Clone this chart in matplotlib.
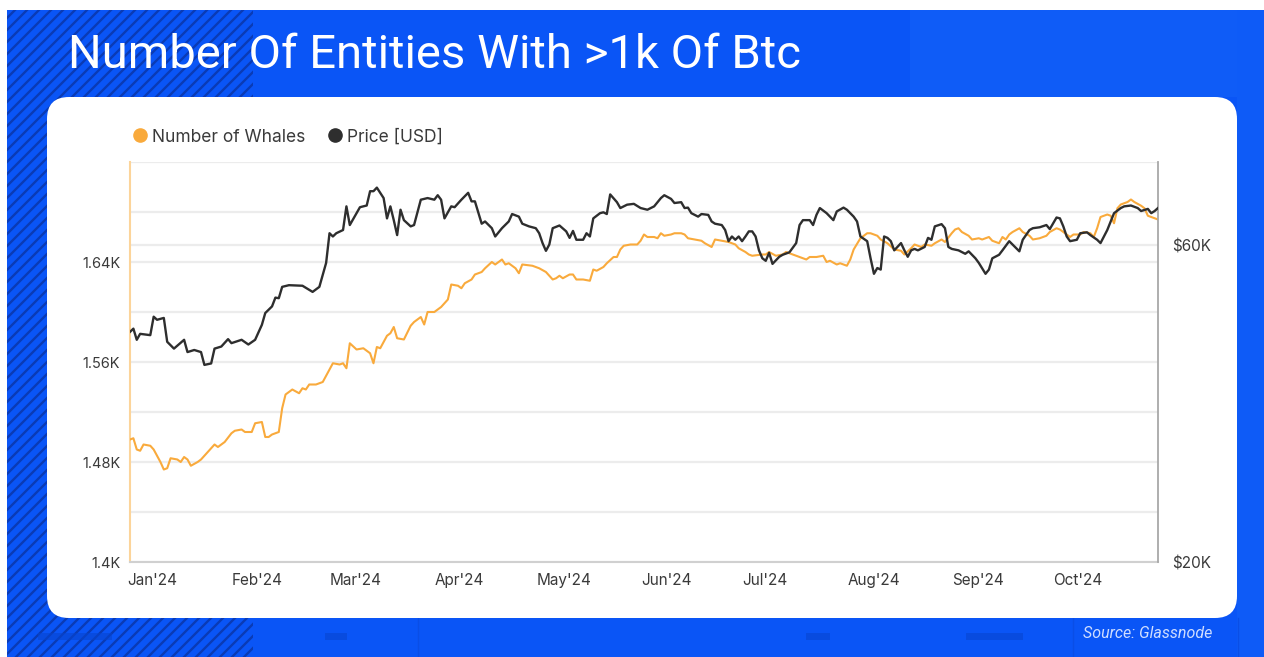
import matplotlib
matplotlib.use("Agg")
import matplotlib.pyplot as plt
import matplotlib.transforms as mtransforms
from matplotlib.patches import Rectangle, FancyBboxPatch
from matplotlib.lines import Line2D
import pandas as pd

# ---------------- data ----------------
YEAR = "2024"
price_days = ["01-01","01-02","01-03","01-04","01-07","01-08","01-09","01-11","01-12","01-14","01-17","01-18","01-20","01-22","01-23","01-25","01-26","01-28","01-30","01-31",
 "02-03","02-05","02-07","02-09","02-10","02-12","02-13","02-14","02-15","02-17","02-21","02-24","02-26","02-28","02-29",
 "03-01","03-02","03-04","03-05","03-06","03-08","03-09","03-11","03-12","03-13","03-14","03-16","03-17","03-18","03-19","03-20","03-21","03-22","03-24","03-25","03-27","03-29","03-31",
 "04-01","04-02","04-03","04-05","04-06","04-08","04-10","04-11","04-12","04-14","04-15","04-17","04-18","04-20","04-22","04-23","04-25","04-26","04-28","04-30",
 "05-01","05-02","05-03","05-04","05-05","05-07","05-09","05-10","05-11","05-12","05-14","05-15","05-16","05-17","05-19","05-20","05-21","05-22","05-24","05-25","05-27","05-29","05-31",
 "06-02","06-04","06-06","06-07","06-09","06-10","06-12","06-13","06-14","06-15","06-17","06-18","06-20","06-21","06-22","06-24","06-25","06-26","06-27","06-28","06-29","06-30",
 "07-01","07-02","07-03","07-04","07-05","07-06","07-07","07-08","07-09","07-11","07-12","07-14","07-16","07-17","07-18","07-20","07-21","07-22","07-23","07-25","07-27","07-28","07-30","07-31",
 "08-02","08-03","08-04","08-06","08-07","08-08","08-09","08-10","08-11","08-12","08-13","08-14","08-16","08-17","08-18","08-19","08-20","08-21","08-23","08-24","08-25","08-26","08-28","08-29","08-30","08-31",
 "09-02","09-04","09-05","09-07","09-08","09-10","09-11","09-12","09-14","09-15","09-17","09-18","09-20","09-21","09-23","09-24","09-26","09-28","09-29",
 "10-01","10-02","10-03","10-04","10-05","10-07","10-08","10-10","10-11","10-13","10-14","10-15","10-16","10-17","10-18","10-20","10-21","10-23","10-25","10-26","10-28","10-29","10-30","10-31"]
price_usd = [44400,44900,43200,44100,43900,46800,46300,46600,42900,41900,43200,41400,41700,41400,39600,39800,41900,42200,43300,42700,
 43200,42500,43200,45500,47400,48500,50000,49900,51900,52200,52100,51000,51900,56400,62500,
 61800,62500,63200,68600,64300,67000,68400,68800,72300,72300,73200,70600,65800,68600,65400,62100,67800,65400,64000,64300,70200,70600,70200,
 71300,70200,65800,68600,68400,70200,71900,69800,69800,64600,65100,63600,61800,63600,65100,66800,66200,64600,64000,63600,
 62500,60400,58800,60100,63600,64200,62900,61500,63000,61100,61100,62500,61800,65800,67000,67200,66800,71500,69600,68200,69000,69200,68200,
 67800,68600,70600,71300,70400,69400,69600,68200,68300,67000,66200,66800,66600,65100,64600,64300,63200,60800,61800,61100,61800,60800,
 61800,62900,62900,61800,58900,57300,56800,58400,56200,57600,58000,58500,60400,64300,65400,65400,64300,66600,68200,67000,65400,67400,68300,67800,
 66200,65100,61800,60800,57300,54300,55400,55100,61800,61500,60800,58900,60400,58900,57600,58900,59200,58900,59600,61500,61100,64000,64500,63600,59600,59200,
 58900,58200,58700,57300,56400,54300,55100,57300,58000,58900,60800,60100,58700,61100,63200,63600,63800,64300,63400,
 66000,65800,64000,61800,60800,61100,62500,62700,62100,61100,60400,61800,63200,65100,67000,68200,68600,68800,68200,67500,68000,67000,67500,68200]

whale_days = ["01-01","01-02","01-03","01-04","01-05","01-07","01-08","01-10","01-11","01-12","01-13","01-15","01-16","01-17","01-18","01-19","01-21","01-22","01-24","01-26","01-27","01-29","01-31",
 "02-01","02-03","02-04","02-06","02-07","02-09","02-10","02-11","02-12","02-14","02-15","02-16","02-18","02-20","02-21","02-22","02-23","02-25","02-27","02-29",
 "03-01","03-03","03-04","03-05","03-06","03-08","03-10","03-12","03-13","03-14","03-15","03-17","03-18","03-19","03-20","03-22","03-24","03-25","03-27","03-28","03-29","03-31",
 "04-02","04-04","04-05","04-07","04-08","04-09","04-11","04-12","04-14","04-15","04-17","04-18","04-20","04-21","04-22","04-24","04-25","04-26","04-29",
 "05-01","05-03","05-05","05-06","05-07","05-08","05-10","05-11","05-12","05-14","05-16","05-17","05-18","05-20","05-21","05-23","05-24","05-25","05-26","05-28","05-30","05-31",
 "06-01","06-02","06-04","06-05","06-06","06-07","06-09","06-10","06-12","06-13","06-14","06-16","06-18","06-19","06-21","06-22","06-24","06-26","06-28","06-29",
 "07-01","07-02","07-03","07-06","07-07","07-08","07-10","07-12","07-13","07-15","07-16","07-18","07-19","07-20","07-22","07-24","07-25","07-26","07-28","07-29","07-31",
 "08-01","08-02","08-04","08-06","08-07","08-09","08-10","08-12","08-14","08-16","08-17","08-19","08-20","08-22","08-23","08-25","08-26","08-28","08-29","08-31",
 "09-01","09-02","09-03","09-05","09-06","09-08","09-09","09-11","09-12","09-14","09-15","09-16","09-17","09-18","09-20","09-21","09-23","09-24","09-26","09-28","09-29",
 "10-01","10-02","10-04","10-05","10-06","10-08","10-09","10-11","10-12","10-13","10-14","10-16","10-17","10-18","10-19","10-20","10-22","10-23","10-24","10-26","10-27","10-28","10-29","10-30","10-31"]
whale_count = [1498,1499,1490,1489,1494,1493,1490,1480,1474,1475,1483,1482,1480,1484,1482,1477,1480,1482,1488,1494,1492,1496,1503,
 1505,1506,1504,1504,1511,1512,1500,1500,1502,1504,1523,1534,1538,1535,1539,1538,1542,1542,1544,1554,
 1559,1558,1559,1555,1575,1570,1571,1567,1559,1572,1571,1581,1583,1588,1579,1578,1589,1592,1596,1590,1600,1600,
 1604,1610,1622,1621,1619,1623,1626,1630,1632,1635,1640,1638,1642,1638,1639,1635,1631,1638,1637,
 1635,1632,1626,1627,1629,1627,1630,1630,1626,1626,1625,1634,1633,1636,1639,1644,1644,1650,1653,1654,1654,1657,
 1662,1660,1660,1659,1663,1661,1662,1663,1663,1662,1659,1658,1657,1655,1652,1658,1657,1656,1654,1651,
 1648,1646,1645,1646,1646,1648,1645,1646,1648,1646,1645,1643,1642,1644,1644,1645,1640,1641,1638,1639,1637,
 1642,1650,1659,1663,1663,1661,1658,1655,1650,1649,1646,1651,1654,1652,1654,1653,1655,1658,1656,1663,
 1666,1667,1664,1661,1658,1659,1658,1660,1657,1655,1660,1658,1662,1664,1667,1664,1661,1658,1659,1661,1664,
 1667,1666,1662,1660,1662,1662,1664,1663,1660,1667,1676,1678,1677,1671,1683,1686,1688,1690,1688,1685,1683,1677,1676,1675,1674]

month_ticks = ["01-01","02-01","03-01","04-01","05-01","06-01","07-01","08-01","09-01","10-01"]
month_labels = ["Jan'24","Feb'24","Mar'24","Apr'24","May'24","Jun'24","Jul'24","Aug'24","Sep'24","Oct'24"]
whale_ticks = [1400,1440,1480,1520,1560,1600,1640,1680,1720]
whale_tick_labels = ["1.4K","","1.48K","","1.56K","","1.64K","",""]
price_ticks = [20000,60000]
price_tick_labels = ["$20K","$60K"]

title = "Number Of Entities With >1k Of Btc"
legend_labels = ["Number of Whales", "Price [USD]"]
source = "Source: Glassnode"

# ---------------- style ----------------
W, H = 1264, 657
BLUE = "#0a55f6"
STRIPE = "#0a3bb5"
ORANGE = "#f9aa3c"
DARK = "#2e2e2e"
TXT = "#3a3a3a"
FONT = ["Inter", "DejaVu Sans"]
plt.rcParams["font.family"] = FONT

fig = plt.figure(figsize=(W / 100, H / 100), dpi=100)
fig.patch.set_facecolor("white")

bg = fig.add_axes([0, 0, 1, 1], zorder=0)
bg.set_xlim(0, W)
bg.set_ylim(H, 0)
bg.axis("off")

# blue background
bg.add_patch(Rectangle((7, 10), W - 7, H - 10, fc=BLUE, ec="none", zorder=0))
bg.add_patch(Rectangle((910, 10), W - 910, 87, fc="#0f5cf7", ec="none", zorder=0.1))
bg.add_patch(Rectangle((1237, 10), W - 1237, H - 10, fc="#0e5bf7", ec="none", zorder=0.1))
# hatched block
hatch_rect = Rectangle((7, 10), 246, H - 10, fc="none", ec="none", zorder=0.2)
bg.add_patch(hatch_rect)
for c in range(-700, 260, 12):
    ln, = bg.plot([c, c + 700], [H + 20, H + 20 - 700], color=STRIPE, lw=1.7,
                  solid_capstyle="butt", zorder=0.5)
    ln.set_clip_path(hatch_rect)
# bottom decorations
for (x0, w0) in [(38, 74), (325, 22), (806, 24), (966, 57)]:
    bg.add_patch(Rectangle((x0, 633), w0, 7, fc="#0845d0", ec="none", alpha=0.6, zorder=0.6))
for xv in [418, 1073, 1238]:
    bg.plot([xv, xv], [618, H], color="#0a4ee6", lw=1, zorder=0.6)

# white panel
bg.add_patch(FancyBboxPatch((47, 97), 1190, 521,
                            boxstyle="round,pad=0,rounding_size=22",
                            fc="white", ec="none", zorder=2))

# title and source
bg.text(68, 68, title, color="white", fontsize=34,
        family=["Roboto", "DejaVu Sans"], va="baseline", ha="left", zorder=3)
bg.text(1212, 634, source, color="#d0deff", fontsize=11.5, style="italic",
        family=["Roboto", "DejaVu Sans"], va="center", ha="right", zorder=3)

# ---------------- chart ----------------
left, right, top, bottom = 130, 1158, 162, 562
ax1 = fig.add_axes([left / W, 1 - bottom / H, (right - left) / W, (bottom - top) / H], zorder=2)
ax1.patch.set_alpha(0)
ax2 = ax1.twinx()

wd = pd.to_datetime([YEAR + "-" + s for s in whale_days])
pdt = pd.to_datetime([YEAR + "-" + s for s in price_days])

ax1.plot(wd, whale_count, color=ORANGE, lw=1.5, zorder=3)
ax2.plot(pdt, price_usd, color=DARK, lw=1.7, zorder=3)

ax1.set_ylim(1400, 1720)
ax2.set_yscale("log")
ax2.set_ylim(20000, 80000)
ax1.set_xlim(pd.Timestamp(YEAR + "-01-01"), pd.Timestamp(YEAR + "-10-31"))

ax1.set_yticks(whale_ticks)
ax1.set_yticklabels(whale_tick_labels)
ax2.set_yticks(price_ticks)
ax2.set_yticklabels(price_tick_labels)
ax2.yaxis.set_minor_locator(matplotlib.ticker.NullLocator())

xt = pd.to_datetime([YEAR + "-" + s for s in month_ticks])
ax1.set_xticks(xt)
ax1.set_xticklabels(month_labels, ha="left")

ax1.tick_params(axis="x", length=0, pad=8, labelsize=11, colors=TXT)
ax1.tick_params(axis="y", length=0, pad=7, labelsize=10.5, colors=TXT)
ax2.tick_params(axis="y", length=0, pad=10, labelsize=11, colors=TXT)
for lab in ax1.get_xticklabels():
    lab.set_transform(lab.get_transform() + mtransforms.ScaledTranslation(-3 / 100, 0, fig.dpi_scale_trans))

ax1.grid(axis="y", color="#ececec", lw=1.6, zorder=0)
ax1.set_axisbelow(True)
blend = mtransforms.blended_transform_factory(ax1.transAxes, ax2.transData)
ax1.plot([0, 1], [60000, 60000], transform=blend, color="#ececec", lw=1.6, zorder=1)

for s in ["top", "right"]:
    ax1.spines[s].set_visible(False)
ax1.spines["left"].set_color("#fcd49a")
ax1.spines["left"].set_linewidth(1.5)
ax1.spines["bottom"].set_color("#d0d0d0")
ax1.spines["bottom"].set_linewidth(1.5)
for s in ["top", "left", "bottom"]:
    ax2.spines[s].set_visible(False)
ax2.spines["right"].set_color("#a8a8a8")
ax2.spines["right"].set_linewidth(1.3)

handles = [Line2D([], [], ls="none", marker="o", markersize=9.5, markerfacecolor=c, markeredgecolor=c)
           for c in (ORANGE, DARK)]
fig.legend(handles, legend_labels, loc="center left", bbox_to_anchor=(124 / W, 1 - 137 / H),
           ncol=2, frameon=False, fontsize=12.5, handlelength=0.8, handletextpad=0.3,
           columnspacing=1.3, borderpad=0, labelcolor=TXT)

fig.savefig("out.png", dpi=100)
